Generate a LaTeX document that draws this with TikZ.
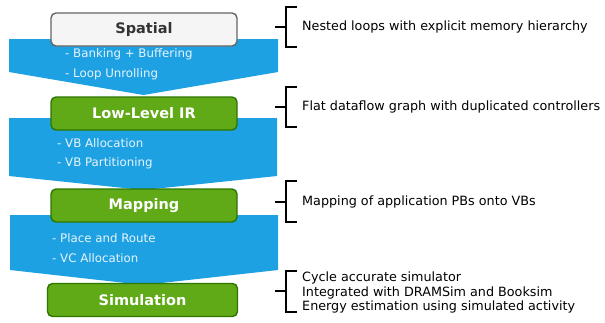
\documentclass[tikz,border=0pt]{standalone}
\usepackage{fontspec}
\setmainfont{DejaVu Sans}
\begin{document}
\begin{tikzpicture}[x=1pt,y=-1pt,
  chev/.style={fill=flowblue,draw=none},
  graybox/.style={draw=boxgrayline,fill=boxgray,rounded corners=5pt,line width=1.4pt,minimum width=186pt,minimum height=33pt,text=titlegray,font=\fontsize{14.5}{16}\selectfont\bfseries,inner sep=0pt},
  greenbox/.style={draw=greenline,fill=greenfill,rounded corners=5pt,line width=1.4pt,minimum width=186pt,minimum height=33pt,text=white,font=\fontsize{14.5}{16}\selectfont\bfseries,inner sep=0pt},
  steptext/.style={anchor=west,text=steptextcol,font=\fontsize{11.8}{13}\selectfont,inner sep=0pt},
  desc/.style={anchor=west,text=black,font=\fontsize{12.75}{14.5}\selectfont,inner sep=0pt,align=left},
  brk/.style={draw=black,line width=1.3pt}]
\definecolor{flowblue}{RGB}{29,161,226}
\definecolor{boxgray}{RGB}{245,245,245}
\definecolor{boxgrayline}{RGB}{102,102,102}
\definecolor{titlegray}{RGB}{51,51,51}
\definecolor{greenfill}{RGB}{96,169,23}
\definecolor{greenline}{RGB}{45,118,0}
\definecolor{steptextcol}{RGB}{232,244,252}
\useasboundingbox (0,0) rectangle (605,322);
\fill[white] (0,0) rectangle (605,322);

% chevrons
\fill[chev] (9,39) -- (278,39) -- (278,72) -- (143.5,95) -- (9,72) -- cycle;
\fill[chev] (9,118) -- (277,118) -- (277,176) -- (143.5,190) -- (9,176) -- cycle;
\fill[chev] (10,215) -- (278,215) -- (278,270) -- (143.5,285) -- (10,270) -- cycle;

% boxes
\node[graybox] (spatial) at (144,29.5) {Spatial};
\node[greenbox] (llir) at (144,113.5) {Low-Level IR};
\node[greenbox] (mapping) at (144,205.5) {Mapping};
\node[greenbox,minimum width=190pt] (sim) at (142.5,300) {Simulation};

% step texts
\node[steptext] (s1a) at (65,54) {- Banking + Buffering};
\node[steptext] (s1b) at (65,74) {- Loop Unrolling};
\node[steptext] (s2a) at (57,143) {- VB Allocation};
\node[steptext] (s2b) at (57,163) {- VB Partitioning};
\node[steptext] (s3a) at (52,238) {- Place and Route};
\node[steptext] (s3b) at (52,258) {- VC Allocation};

% brackets
\draw[brk] (297,7) -- (286,7) -- (286,47) -- (297,47);
\draw[brk] (275,27) -- (286,27);
\draw[brk] (297,87) -- (286,87) -- (286,127) -- (297,127);
\draw[brk] (275,107) -- (286,107);
\draw[brk] (297,181) -- (286,181) -- (286,222) -- (297,222);
\draw[brk] (275,202) -- (286,202);
\draw[brk] (297,271) -- (286,271) -- (286,312) -- (297,312);
\draw[brk] (275,291) -- (286,291);

% descriptions
\node[desc] (d1) at (302,27) {Nested loops with explicit memory hierarchy};
\node[desc] (d2) at (302,107) {Flat dataflow graph with duplicated controllers};
\node[desc] (d3) at (302,202) {Mapping of application PBs onto VBs};
\node[desc] (d4) at (302,292.5) {Cycle accurate simulator\\Integrated with DRAMSim and Booksim\\Energy estimation using simulated activity};
\end{tikzpicture}
\end{document}
